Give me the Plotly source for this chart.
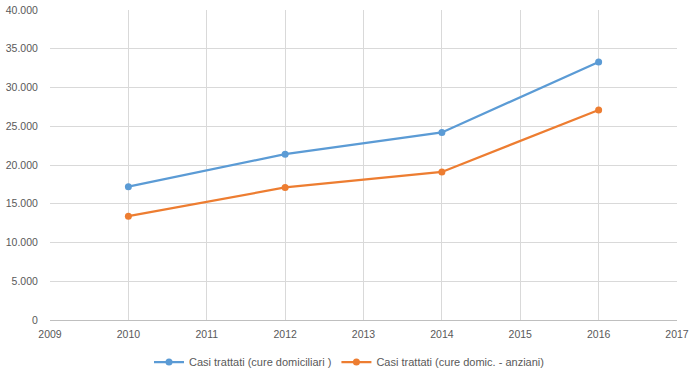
import plotly.graph_objects as go

years = [2010, 2012, 2014, 2016]
casi_cure_domiciliari = [17200, 21400, 24200, 33300]
casi_anziani = [13400, 17100, 19100, 27100]
series_names = ["Casi trattati (cure domiciliari )", "Casi trattati (cure domic. - anziani)"]

fig = go.Figure()
fig.add_trace(go.Scatter(x=years, y=casi_cure_domiciliari, mode="lines+markers",
                         name=series_names[0],
                         line=dict(color="#5B9BD5", width=2.25),
                         marker=dict(size=7, color="#5B9BD5")))
fig.add_trace(go.Scatter(x=years, y=casi_anziani, mode="lines+markers",
                         name=series_names[1],
                         line=dict(color="#ED7D31", width=2.25),
                         marker=dict(size=7, color="#ED7D31")))

fig.update_layout(
    width=698, height=378,
    margin=dict(l=50, r=21, t=10, b=58, autoexpand=False),
    plot_bgcolor="white", paper_bgcolor="white",
    separators=",.",
    font=dict(family="Liberation Sans, Arial, sans-serif", size=10.5, color="#595959"),
    showlegend=True,
    legend=dict(orientation="h", xref="container", x=0.5, xanchor="center",
                yref="container", y=16 / 378, yanchor="middle",
                font=dict(size=11, color="#595959"), itemwidth=30,
                tracegroupgap=0),
)
fig.update_xaxes(range=[2009, 2017], dtick=1, tick0=2009, showgrid=True, gridcolor="#D9D9D9",
                 showline=True, linecolor="#BFBFBF", zeroline=False, ticks="outside",
                 ticklen=4, tickcolor="white", tickformat="d", automargin=False)
fig.update_yaxes(range=[0, 40000], dtick=5000, showgrid=True, gridcolor="#D9D9D9",
                 showline=False, zeroline=False, tickformat=",", ticks="outside",
                 ticklen=9, tickcolor="white", automargin=False)

fig.write_html("out.html", config={"displayModeBar": False},
               post_script="document.body.style.margin='0px';document.body.style.overflow='hidden';")
